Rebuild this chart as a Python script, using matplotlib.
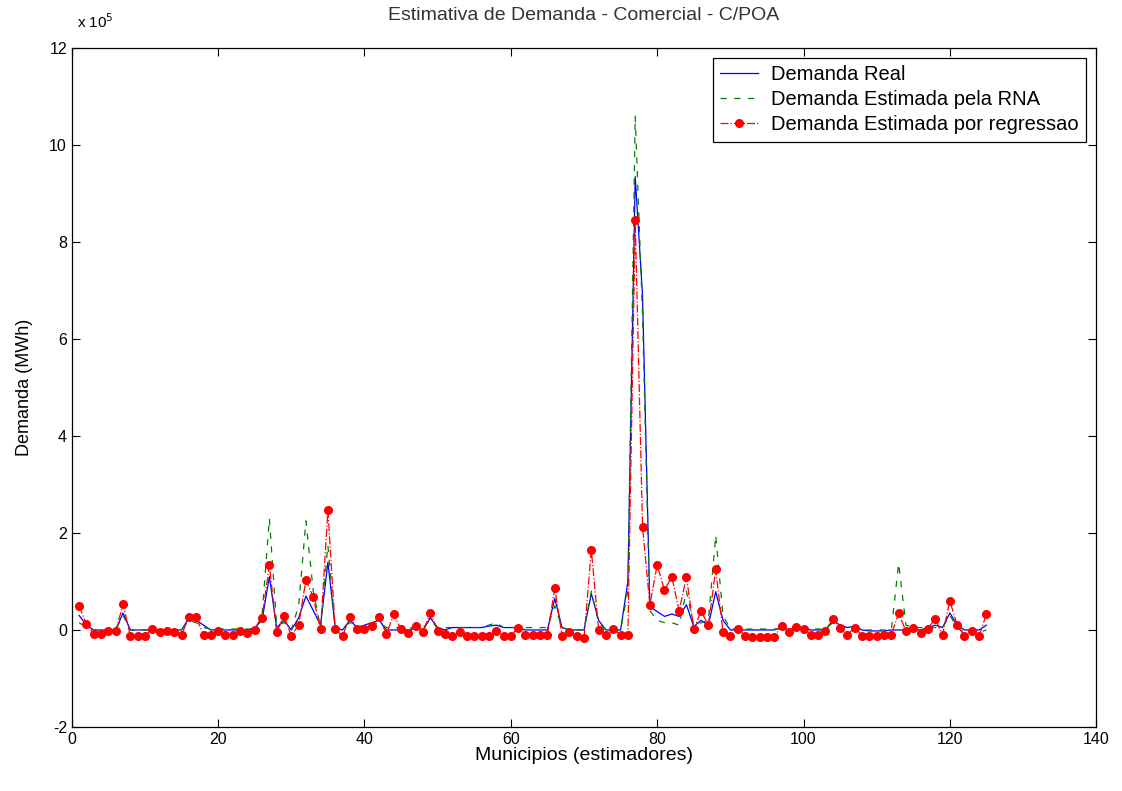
import matplotlib
matplotlib.use("Agg")
import matplotlib.pyplot as plt
import numpy as np

# valores em unidades de 10^5 MWh, municipios 1..125
municipios = list(range(1, 126))

demanda_real = [
    0.30, 0.10, 0.00, 0.00, 0.00, 0.00, 0.35, 0.00, 0.00, 0.00,
    0.00, 0.00, 0.00, 0.00, 0.00, 0.25, 0.20, 0.10, 0.00, 0.00,
    0.00, 0.00, 0.00, 0.00, 0.05, 0.20, 1.10, 0.05, 0.20, 0.00,
    0.25, 0.70, 0.40, 0.10, 1.40, 0.05, 0.00, 0.20, 0.05, 0.10,
    0.15, 0.20, 0.00, 0.00, 0.00, 0.00, 0.05, 0.00, 0.25, 0.05,
    0.00, 0.05, 0.05, 0.05, 0.05, 0.05, 0.08, 0.10, 0.05, 0.05,
    0.05, 0.00, 0.00, 0.00, 0.00, 0.65, 0.05, 0.00, 0.00, 0.00,
    0.75, 0.20, 0.00, 0.00, 0.00, 1.00, 9.35, 6.90, 0.48, 0.38,
    0.28, 0.33, 0.28, 0.52, 0.07, 0.20, 0.10, 0.79, 0.20, 0.00,
    0.00, 0.00, 0.00, 0.00, 0.00, 0.00, 0.05, 0.00, 0.00, 0.05,
    0.00, 0.00, 0.00, 0.20, 0.10, 0.05, 0.08, 0.00, -0.02, -0.02,
    -0.02, 0.00, 0.00, 0.00, 0.00, 0.00, 0.05, 0.10, 0.05, 0.35,
    0.10, 0.00, 0.00, 0.00, 0.10,
]

demanda_rna = [
    0.15, 0.05, 0.00, 0.00, 0.00, 0.00, 0.30, 0.00, 0.00, 0.00,
    0.00, 0.00, 0.00, 0.00, 0.00, 0.20, 0.15, 0.05, 0.02, 0.02,
    0.02, 0.02, 0.02, 0.02, 0.00, 0.30, 2.30, 0.10, 0.15, 0.00,
    0.50, 2.25, 0.80, 0.05, 1.75, 0.00, 0.05, 0.15, 0.05, 0.10,
    0.10, 0.15, 0.05, 0.05, 0.05, 0.05, 0.05, 0.05, 0.20, 0.05,
    0.05, 0.05, 0.05, 0.05, 0.05, 0.05, 0.10, 0.15, 0.05, 0.05,
    0.05, 0.05, 0.05, 0.05, 0.05, 0.50, 0.05, 0.00, 0.00, 0.00,
    0.80, 0.15, 0.00, 0.00, 0.00, 0.80, 10.60, 6.50, 0.40, 0.20,
    0.15, 0.15, 0.10, 0.80, 0.10, 0.15, 0.20, 1.95, 0.30, 0.02,
    0.02, 0.02, 0.02, 0.02, 0.02, 0.02, 0.02, 0.02, 0.02, 0.02,
    0.02, 0.02, 0.02, 0.15, 0.05, 0.05, 0.05, 0.00, 0.00, 0.00,
    0.00, 0.00, 1.37, 0.10, 0.05, 0.05, 0.05, 0.05, 0.05, 0.30,
    0.05, -0.05, 0.00, -0.05, 0.00,
]

demanda_regressao = [
    0.49, 0.12, -0.09, -0.09, -0.03, -0.03, 0.53, -0.12, -0.12, -0.12,
    0.03, -0.05, -0.02, -0.05, -0.10, 0.26, 0.26, -0.10, -0.10, -0.03,
    -0.10, -0.10, -0.02, -0.07, 0.00, 0.25, 1.34, -0.05, 0.29, -0.12,
    0.10, 1.04, 0.67, 0.01, 2.47, 0.01, -0.12, 0.27, 0.03, 0.03,
    0.09, 0.26, -0.08, 0.32, 0.01, -0.07, 0.09, -0.05, 0.36, -0.02,
    -0.08, -0.12, -0.05, -0.12, -0.12, -0.12, -0.12, -0.02, -0.12, -0.12,
    0.05, -0.10, -0.10, -0.10, -0.10, 0.86, -0.12, -0.05, -0.12, -0.17,
    1.65, 0.00, -0.10, 0.03, -0.10, -0.10, 8.45, 2.13, 0.52, 1.34,
    0.82, 1.10, 0.39, 1.10, 0.01, 0.39, 0.10, 1.25, -0.05, -0.12,
    0.03, -0.12, -0.15, -0.15, -0.15, -0.15, 0.09, -0.04, 0.07, 0.01,
    -0.10, -0.10, -0.03, 0.23, 0.05, -0.10, 0.05, -0.12, -0.12, -0.12,
    -0.10, -0.10, 0.34, -0.02, 0.05, -0.07, 0.03, 0.23, -0.10, 0.60,
    0.10, -0.12, -0.02, -0.12, 0.32,
]

plt.rcParams['font.family'] = ['Liberation Sans', 'DejaVu Sans']
plt.rcParams['axes.unicode_minus'] = False

fig = plt.figure(figsize=(11.22, 7.91), dpi=100)
ax = fig.add_axes([0.064, 0.081, 0.913, 0.858])

ax.plot(municipios, demanda_real, color='#0000ff', lw=0.9, label='Demanda Real')
ax.plot(municipios, demanda_rna, color='#008000', lw=0.9, ls=(0, (5, 6)),
        label='Demanda Estimada pela RNA')
ax.plot(municipios, demanda_regressao, color='#ff0000', lw=0.9, ls='-.',
        marker='o', markersize=5.5, label='Demanda Estimada por regressao')

ax.set_xlim(0, 140)
ax.set_ylim(-2, 12)
ax.set_xticks(np.arange(0, 141, 20))
ax.set_yticks(np.arange(-2, 13, 2))
ax.tick_params(direction='in', length=6, top=True, right=True, labelsize=11.5)
for s in ax.spines.values():
    s.set_linewidth(0.9)

ax.set_title('Estimativa de Demanda - Comercial - C/POA', fontsize=14, pad=20,
             color='#333333')
ax.set_xlabel('Municipios (estimadores)', fontsize=14, labelpad=0)
ax.set_ylabel('Demanda (MWh)', fontsize=13, labelpad=12)
ax.text(0.005, 1.025, r'x 10$^5$', transform=ax.transAxes, fontsize=11,
        va='bottom', ha='left')

leg = ax.legend(loc='upper right', fontsize=14.5, fancybox=False, framealpha=1,
                edgecolor='black', handlelength=1.9, borderaxespad=0.5,
                labelspacing=0.3, handletextpad=0.65, borderpad=0.35)
leg.get_frame().set_linewidth(0.9)

fig.savefig('out.png', dpi=100)
